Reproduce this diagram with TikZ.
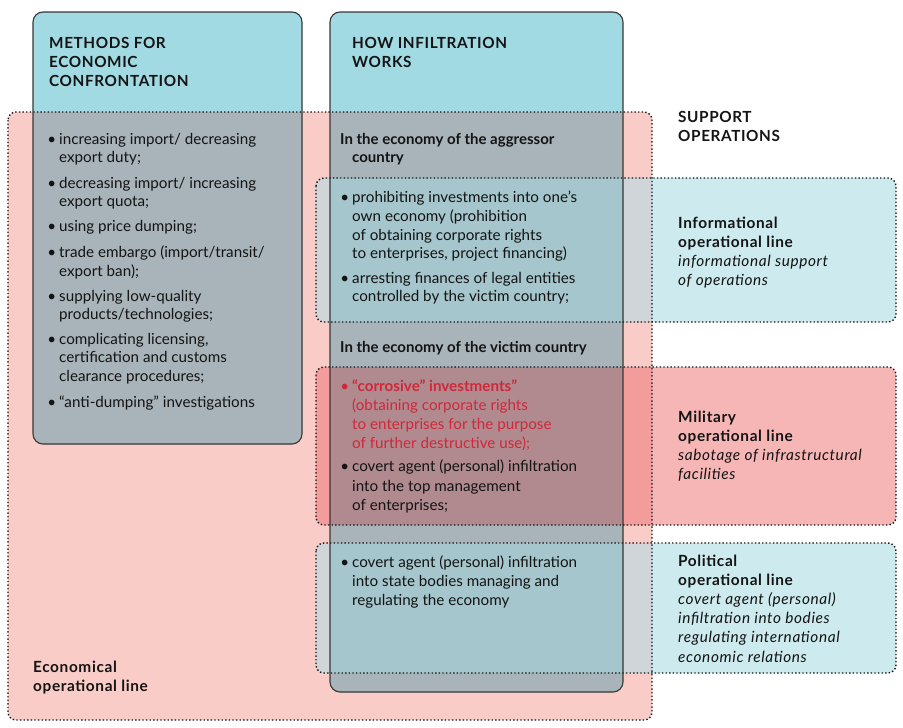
\documentclass[tikz,border=0pt]{standalone}
\usepackage{fontspec}
\setmainfont{Lato}
\newfontfamily\spaced[LetterSpace=4]{Lato}
\definecolor{teal}{HTML}{A1DAE2}
\definecolor{pinkbg}{HTML}{FACCC8}
\definecolor{colgray}{HTML}{A9B4BA}
\definecolor{infow}{HTML}{CDEAEE}
\definecolor{infop}{HTML}{D0D5DA}
\definecolor{infoc}{HTML}{A5C6CC}
\definecolor{milw}{HTML}{F7B6B6}
\definecolor{milp}{HTML}{F29C9C}
\definecolor{milc}{HTML}{B08A8F}
\definecolor{redtxt}{HTML}{D0283A}
\definecolor{ink}{HTML}{141414}
\tikzset{
  txt/.style={anchor=north west, inner sep=0pt, align=left, text=ink,
    font=\fontsize{15.2}{18.6}\selectfont},
  hdr/.style={txt, font=\fontsize{15.3}{19}\selectfont\bfseries\spaced},
  lbl/.style={txt, font=\fontsize{15.4}{19.2}\selectfont\spaced},
  colborder/.style={draw=ink!85, line width=1.1pt, rounded corners=10pt},
  dotborder/.style={draw=ink, line width=1.4pt, dash pattern=on 1.4pt off 2.2pt, rounded corners=8pt},
}
\newcommand{\bul}{\llap{\textbullet\hspace{3pt}}}
\begin{document}
\begin{tikzpicture}[x=1pt,y=-1pt]
\useasboundingbox (0,0) rectangle (903,728);
% backgrounds
\fill[pinkbg, rounded corners=8pt] (8,112) rectangle (652,720);
\fill[infow, rounded corners=8pt] (316,178) rectangle (896,322);
\fill[milw, rounded corners=8pt] (316,367) rectangle (896,525);
\fill[infow, rounded corners=8pt] (316,543) rectangle (896,673);
\begin{scope}
\clip[rounded corners=8pt] (8,112) rectangle (652,720);
\fill[infop, rounded corners=8pt] (316,178) rectangle (896,322);
\fill[milp, rounded corners=8pt] (316,367) rectangle (896,525);
\fill[infop, rounded corners=8pt] (316,543) rectangle (896,673);
\end{scope}
% columns
\fill[teal, rounded corners=10pt] (33,12) rectangle (302,444);
\fill[teal, rounded corners=10pt] (330,12) rectangle (623,692);
\begin{scope}
\clip[rounded corners=8pt] (8,112) rectangle (652,720);
\fill[colgray, rounded corners=10pt] (33,12) rectangle (302,444);
\fill[colgray, rounded corners=10pt] (330,12) rectangle (623,692);
\end{scope}
\begin{scope}
\clip[rounded corners=10pt] (330,12) rectangle (623,692);
\fill[infoc, rounded corners=8pt] (316,178) rectangle (896,322);
\fill[milc, rounded corners=8pt] (316,367) rectangle (896,525);
\fill[infoc, rounded corners=8pt] (316,543) rectangle (896,673);
\end{scope}
% borders
\draw[colborder] (33,12) rectangle (302,444);
\draw[colborder] (330,12) rectangle (623,692);
\draw[dotborder] (8,112) rectangle (652,720);
\draw[dotborder] (316,178) rectangle (896,322);
\draw[dotborder] (316,367) rectangle (896,525);
\draw[dotborder] (316,543) rectangle (896,673);
% column 1
\node[hdr] (h1) at (49,37) {METHODS FOR\\ECONOMIC\\CONFRONTATION};
\node[txt] (m1) at (59,133) {\bul increasing import/ decreasing\\export duty;};
\node[txt] (m2) at (59,177) {\bul decreasing import/ increasing\\export quota;};
\node[txt] (m3) at (59,220) {\bul using price dumping;};
\node[txt] (m4) at (59,246) {\bul trade embargo (import/transit/\\export ban);};
\node[txt] (m5) at (59,290) {\bul supplying low-quality\\products/technologies;};
\node[txt] (m6) at (59,333) {\bul complicating licensing,\\certification and customs\\clearance procedures;};
\node[txt] (m7) at (59,396) {\bul “anti-dumping” investigations};
% column 2
\node[hdr] (h2) at (352,37) {HOW INFILTRATION\\WORKS};
\node[txt, font=\fontsize{15}{18.6}\selectfont\bfseries] (agg) at (340,133) {In the economy of the aggressor\\\hspace*{12pt}country};
\node[txt] (a1) at (352,191) {\bul prohibiting investments into one’s\\own economy (prohibition\\of obtaining corporate rights\\to enterprises, project financing)};
\node[txt] (a2) at (352,272) {\bul arresting finances of legal entities\\controlled by the victim country;};
\node[txt, font=\fontsize{15}{18.6}\selectfont\bfseries] (vic) at (340,341) {In the economy of the victim country};
\node[txt, text=redtxt, font=\fontsize{15.2}{19}\selectfont] (v1) at (352,379) {\bul\textbf{“corrosive” investments”}\\(obtaining corporate rights\\to enterprises for the purpose\\of further destructive use);};
\node[txt, font=\fontsize{15.2}{19.5}\selectfont] (v2) at (352,460) {\bul covert agent (personal) infiltration\\into the top management\\of enterprises;};
\node[txt, font=\fontsize{15.2}{19}\selectfont] (p1) at (352,556) {\bul covert agent (personal) infiltration\\into state bodies managing and\\regulating the economy};
% right side
\node[hdr] (sup) at (678,111) {SUPPORT\\OPERATIONS};
\node[lbl] (inf) at (678,216.5) {\textbf{Informational}\\\textbf{operational line}\\\textit{informational support}\\\textit{of operations}};
\node[lbl] (mil) at (678,410.5) {\textbf{Military}\\\textbf{operational line}\\\textit{sabotage of infrastructural}\\\textit{facilities}};
\node[lbl] (pol) at (678,554.5) {\textbf{Political}\\\textbf{operational line}\\\textit{covert agent (personal)}\\\textit{infiltration into bodies}\\\textit{regulating international}\\\textit{economic relations}};
\node[lbl] (eco) at (33,660.5) {\textbf{Economical}\\\textbf{operational line}};
\end{tikzpicture}
\end{document}
